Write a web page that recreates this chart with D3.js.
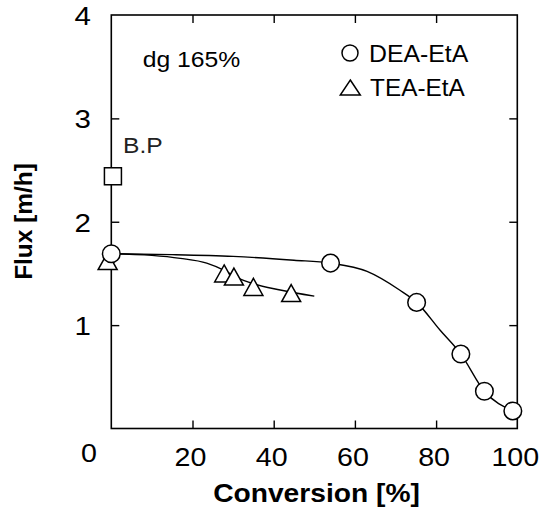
<!DOCTYPE html>
<html>
<head>
<meta charset="utf-8">
<script src="https://cdn.jsdelivr.net/npm/d3@7"></script>
<style>
  html, body { margin: 0; padding: 0; background: #fff; }
  svg { display: block; }
  text { font-family: "Liberation Sans", Arial, Helvetica, sans-serif; fill: #000; }
</style>
</head>
<body>
<svg id="chart" width="544" height="514"></svg>
<script>
// ---- data ----
const xTicks = [20, 40, 60, 80, 100];
const yTicks = [1, 2, 3, 4];
const deaX = [0, 54, 75.2, 86.1, 91.9, 98.9];
const deaY = [1.69, 1.60, 1.22, 0.72, 0.36, 0.17];
const teaX = [-0.9, 27.8, 30.2, 35.0, 44.3];
const teaY = [1.62, 1.50, 1.47, 1.37, 1.31];
const bpX = [0.4];
const bpY = [2.44];
const deaFitX = [0, 15, 30, 45, 54, 63, 71, 75.2, 81, 86.1, 91.9, 98.9];
const deaFitY = [1.69, 1.682, 1.665, 1.628, 1.60, 1.52, 1.34, 1.22, 0.95, 0.72, 0.36, 0.17];
const teaFitX = [0, 10, 17, 23.5, 27.8, 31, 35, 41.6, 50];
const teaFitY = [1.69, 1.675, 1.646, 1.60, 1.53, 1.46, 1.40, 1.34, 1.28];
const seriesNames = ["DEA-EtA", "TEA-EtA"];
const annotation = "dg 165%";
const bpLabel = "B.P";
const xTitle = "Conversion [%]";
const yTitle = "Flux [m/h]";

// ---- layout ----
const svg = d3.select("#chart");
const x = d3.scaleLinear().domain([0, 100]).range([111.3, 517.3]);
const y = d3.scaleLinear().domain([0, 4]).range([428.5, 15]);

function txt(str, tx, ty, size, sx, anchor, weight, rot) {
  const t = svg.append("text")
    .attr("transform", `translate(${tx},${ty})` + (rot ? ` rotate(${rot})` : "") + ` scale(${sx},1)`)
    .attr("font-size", size)
    .attr("text-anchor", anchor || "start")
    .attr("font-weight", weight || "normal")
    .text(str);
  return t;
}

// frame
svg.append("rect")
  .attr("x", x(0)).attr("y", y(4))
  .attr("width", x(100) - x(0)).attr("height", y(0) - y(4))
  .attr("fill", "none").attr("stroke", "#000").attr("stroke-width", 1.6);

// inward ticks using d3 axes
const tk = 8;
const axB = svg.append("g").attr("transform", `translate(0,${y(0)})`)
  .call(d3.axisBottom(x).tickValues(xTicks.slice(0, 4)).tickSize(-tk).tickSizeOuter(0).tickFormat(""));
const axT = svg.append("g").attr("transform", `translate(0,${y(4)})`)
  .call(d3.axisTop(x).tickValues(xTicks.slice(0, 4)).tickSize(-tk).tickSizeOuter(0).tickFormat(""));
const axL = svg.append("g").attr("transform", `translate(${x(0)},0)`)
  .call(d3.axisLeft(y).tickValues(yTicks.slice(0, 3)).tickSize(-tk).tickSizeOuter(0).tickFormat(""));
const axR = svg.append("g").attr("transform", `translate(${x(100)},0)`)
  .call(d3.axisRight(y).tickValues(yTicks.slice(0, 3)).tickSize(-tk).tickSizeOuter(0).tickFormat(""));
[axB, axT, axL, axR].forEach(a => {
  a.select(".domain").remove();
  a.selectAll("line").attr("stroke", "#000").attr("stroke-width", 1.4);
});

// tick labels
xTicks.forEach(v => txt(String(v), x(v) - 2, 466, 26.5, 1.08, "middle"));
yTicks.forEach(v => txt(String(v), 91, y(v) + 10, 25, 1.18, "end"));
txt("0", 89, 462, 26.5, 1.08, "middle");

// axis titles
txt(xTitle, 316.5, 501.5, 26, 1.085, "middle", "bold");
txt(yTitle, 32, 221.5, 23.5, 1.04, "middle", "bold", -90);

// fitted curves
const line = d3.line().x(d => x(d[0])).y(d => y(d[1])).curve(d3.curveMonotoneX);
svg.append("path").datum(deaFitX.map((v, i) => [v, deaFitY[i]]))
  .attr("d", line).attr("fill", "none").attr("stroke", "#000").attr("stroke-width", 1.4);
svg.append("path").datum(teaFitX.map((v, i) => [v, teaFitY[i]]))
  .attr("d", line).attr("fill", "none").attr("stroke", "#000").attr("stroke-width", 1.4);

// symbols
const triW = 19, triH = 17;
function triPath(cx, cy, w, h) {
  return `M${cx},${cy - h / 2}L${cx + w / 2},${cy + h / 2}L${cx - w / 2},${cy + h / 2}Z`;
}
svg.append("g").selectAll("path").data(teaX.map((v, i) => [v, teaY[i]])).join("path")
  .attr("d", d => triPath(x(d[0]), y(d[1]), triW, triH))
  .attr("fill", "#fff").attr("stroke", "#000").attr("stroke-width", 1.5);
svg.append("g").selectAll("circle").data(deaX.map((v, i) => [v, deaY[i]])).join("circle")
  .attr("cx", d => x(d[0])).attr("cy", d => y(d[1])).attr("r", 8.8)
  .attr("fill", "#fff").attr("stroke", "#000").attr("stroke-width", 1.5);
svg.append("g").selectAll("rect").data(bpX.map((v, i) => [v, bpY[i]])).join("rect")
  .attr("x", d => x(d[0]) - 8.5).attr("y", d => y(d[1]) - 8.5)
  .attr("width", 17).attr("height", 17)
  .attr("fill", "#fff").attr("stroke", "#000").attr("stroke-width", 1.5);

// annotations
txt(annotation, 142.7, 67, 21.5, 1.15, "start");
txt(bpLabel, 123, 153, 22, 1.12, "start").style("fill", "#222");

// legend
svg.append("circle").attr("cx", 350).attr("cy", 53).attr("r", 8)
  .attr("fill", "#fff").attr("stroke", "#000").attr("stroke-width", 1.5);
txt(seriesNames[0], 369, 61.7, 23, 1.08, "start");
svg.append("path").attr("d", triPath(350.3, 87.5, 20, 15))
  .attr("fill", "#fff").attr("stroke", "#000").attr("stroke-width", 1.5);
txt(seriesNames[1], 370, 95.5, 23, 1.06, "start");
</script>
</body>
</html>
